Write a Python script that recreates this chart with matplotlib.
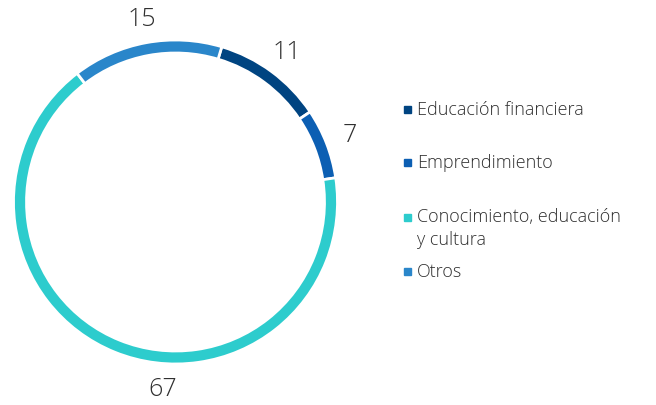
import matplotlib.pyplot as plt
from matplotlib.patches import Rectangle
import numpy as np

# data
labels = ['Educación financiera', 'Emprendimiento', 'Conocimiento, educación\ny cultura', 'Otros']
values = [11, 7, 67, 15]
colors = ['#004481', '#0c5fb3', '#2dcccd', '#2a86ca']

plt.rcParams['font.family'] = ['Open Sans', 'DejaVu Sans']
txt_color = '#303030'

fig = plt.figure(figsize=(6.56, 4.06), dpi=100)
ax = fig.add_axes([0, 0, 1, 1])

cx, cy, R, w = 175.5, 203, 162, 13
start = 90 - 16.6
wedges, _ = ax.pie(values, colors=colors, startangle=start, counterclock=False,
                   radius=R, center=(cx, cy), frame=True,
                   wedgeprops=dict(width=w, edgecolor='white', linewidth=2))
ax.set_xlim(0, 656)
ax.set_ylim(0, 406)
ax.set_aspect('equal')
ax.axis('off')

# value labels outside the ring (big slice label sits near the bottom)
label_shift = [0, 0, 18, 0]
for wd, v, sh in zip(wedges, values, label_shift):
    ang = np.deg2rad((wd.theta1 + wd.theta2) / 2 + sh)
    r = 187
    ax.text(cx + r * np.cos(ang), cy + r * np.sin(ang), str(v), ha='center', va='center',
            fontsize=18, fontweight='light', color=txt_color)

# legend
leg_y = [406 - 110, 406 - 163, 406 - 218, 406 - 272]
for lab, c, y in zip(labels, colors, leg_y):
    ax.add_patch(Rectangle((404, y - 3.5), 7, 7, color=c))
    if '\n' in lab:
        ax.text(417, y + 10, lab, ha='left', va='top', fontsize=13, fontweight='light',
                color=txt_color, linespacing=1.35)
    else:
        ax.text(417, y, lab, ha='left', va='center', fontsize=13, fontweight='light',
                color=txt_color)

fig.savefig('out.png', dpi=100)
